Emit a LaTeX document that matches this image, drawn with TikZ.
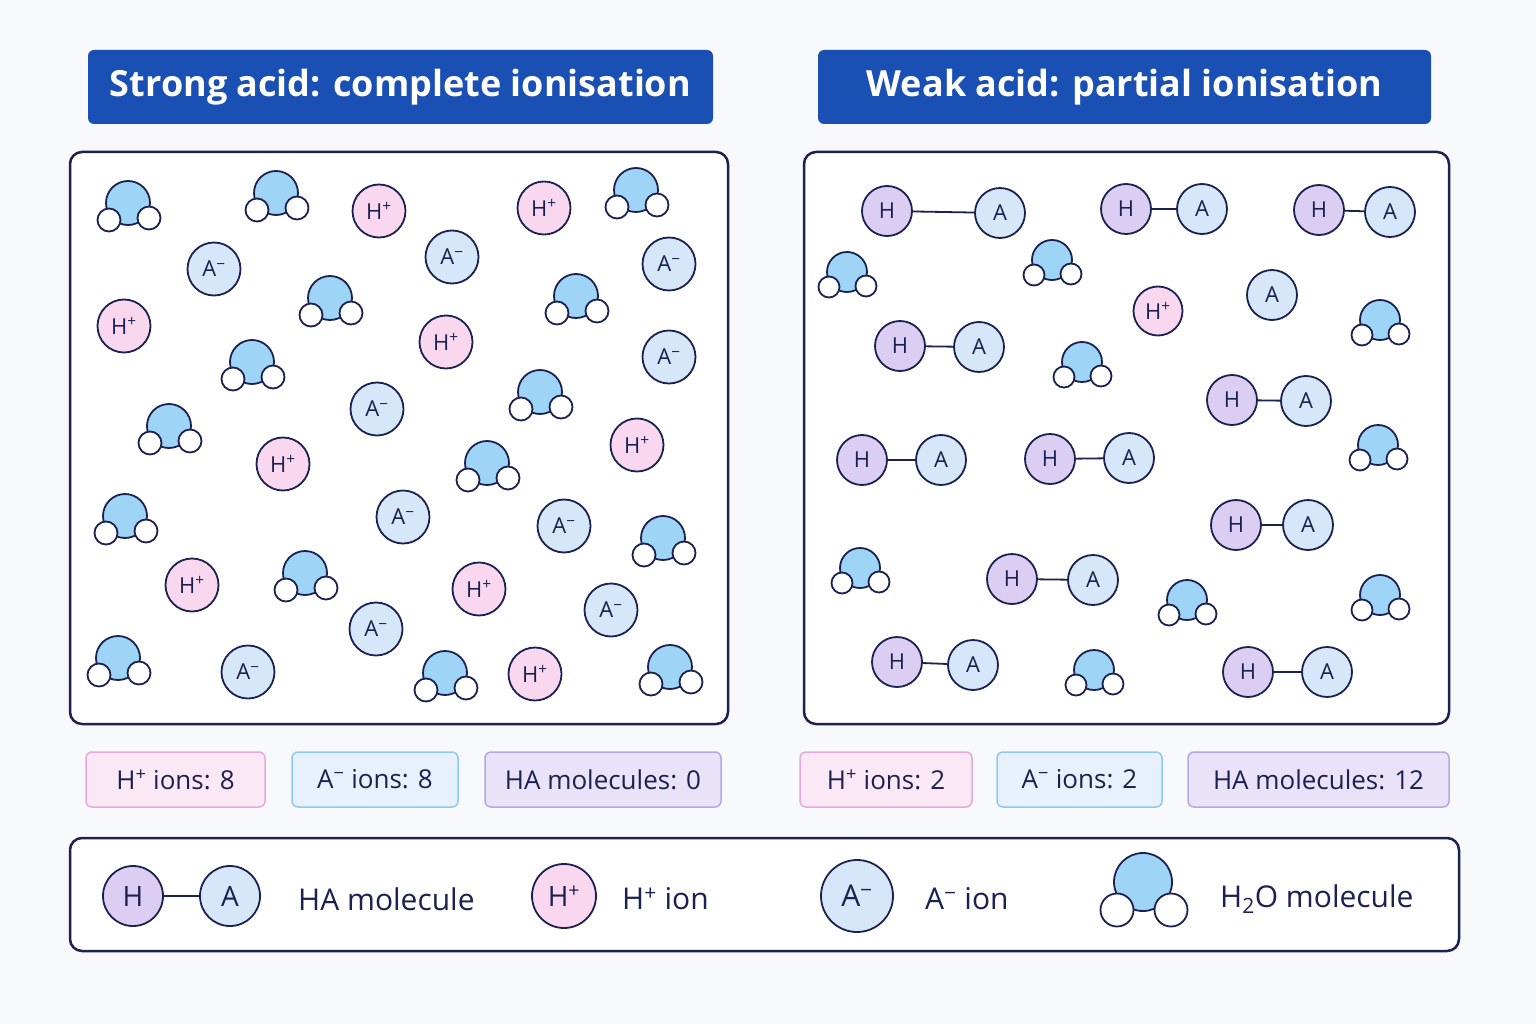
\documentclass[tikz,border=0pt]{standalone}
\usepackage{fontspec}
\setmainfont{Open Sans}
\definecolor{navy}{HTML}{1B2150}
\definecolor{ban}{HTML}{1A4FB4}
\definecolor{pinkf}{HTML}{F9D8EF}
\definecolor{bluef}{HTML}{D5E7F8}
\definecolor{oxf}{HTML}{9ED4F6}
\definecolor{purf}{HTML}{DCCEF3}
\definecolor{pinkb}{HTML}{EAA8D8}
\definecolor{blueb}{HTML}{8FC9EF}
\definecolor{purb}{HTML}{B4A8E3}
\begin{document}
\begin{tikzpicture}[x=1pt,y=-1pt,
 every node/.style={font=\fontsize{22}{26}\selectfont,text=navy,inner sep=0pt},
 ion/.style={circle,draw=navy,line width=1.8pt,minimum size=#1},
 hp/.style={ion=#1,fill=pinkf}, hp/.default=53,
 am/.style={ion=#1,fill=bluef}, am/.default=53,
 hh/.style={ion=#1,fill=purf}, hh/.default=50,
 ox/.style={circle,draw=navy,line width=1.8pt,fill=oxf,minimum size=#1}, ox/.default=44,
 hy/.style={circle,draw=navy,line width=1.8pt,fill=white,minimum size=#1}, hy/.default=23,
 panel/.style={draw=navy,line width=2.5pt,rounded corners=12pt,fill=white},
 banner/.style={fill=ban,rounded corners=6pt},
 btxt/.style={font=\fontsize{36}{40}\selectfont\bfseries,text=white},
 cnt/.style={rounded corners=6pt,line width=1.5pt},
 ctxt/.style={font=\fontsize{26}{30}\selectfont},
 ltxt/.style={font=\fontsize{30}{34}\selectfont,anchor=west},
 bond/.style={draw=navy,line width=1.8pt}]
\useasboundingbox[fill=white!97!blue!60!white] (0,0) rectangle (1536,1024);
\fill[fill={rgb,255:red,248;green,249;blue,252}] (0,0) rectangle (1536,1024);
% banners
\node[banner,minimum width=625,minimum height=74] (b1) at (400.5,87) {};
\node[btxt] (b1t) at (b1) {Strong acid: complete ionisation};
\node[banner,minimum width=613,minimum height=74] (b2) at (1124.5,87) {};
\node[btxt] (b2t) at (b2) {Weak acid: partial ionisation};
% panels
\draw[panel] (70,152) rectangle (728,724);
\draw[panel] (804,152) rectangle (1449,724);
% left waters
\foreach[count=\i] \x/\y in {128/203,276/193,636/190,330/298,576/296,252/362,540/392,169/426,487/463,125/516,663/538,305/573,118/658,445/673,670/667}{
 \node[ox] (wl\i) at (\x,\y) {};
 \node[hy] (wl\i a) at (\x-19,\y+17) {};
 \node[hy] (wl\i b) at (\x+21,\y+15) {};
}
\foreach[count=\i] \x/\y in {379/211,544/208,124/326,446/342,637/445,283/464,192/585,479/589,535/674}{
 \node[hp] (hl\i) at (\x,\y) {H\textsuperscript{+}};
}
\foreach[count=\i] \x/\y in {214/269,452/257,669/264,669/357,377/409,403/517,564/526,376/629,611/610,248/672}{
 \node[am] (al\i) at (\x,\y) {A\textsuperscript{−}};
}
% right panel
\foreach[count=\i] \x/\y/\u/\v in {887/211/1000/213,1126/209/1202/209,1319/210/1390/212,900/346/979/347,1232/400/1306/401,862/460/941/460,1050/459/1129/458,1236/525/1308/525,1012/579/1093/580,897/662/973/665,1248/672/1327/672}{
 \node[hh] (hr\i) at (\x,\y) {H};
 \node[am=50] (ar\i) at (\u,\v) {A};
 \draw[bond] (hr\i) -- (ar\i);
}
\node[am=50] (ar0) at (1272,295) {A};
\node[hp=49] (hpr) at (1158,311) {H\textsuperscript{+}};
\foreach[count=\i] \x/\y in {847/272,1052/260,1380/320,1082/362,1378/445,860/568,1187/600,1380/595,1094/670}{
 \node[ox=40] (wr\i) at (\x,\y) {};
 \node[hy=21] (wr\i a) at (\x-18,\y+15) {};
 \node[hy=21] (wr\i b) at (\x+19,\y+14) {};
}
% counts
\node[cnt,draw=pinkb,fill=pinkf!60,minimum width=179,minimum height=55] (c1) at (175.5,779.5) {};
\node[ctxt] at (c1) {H\textsuperscript{+} ions: 8};
\node[cnt,draw=blueb,fill=bluef!60,minimum width=166,minimum height=55] (c2) at (375,779.5) {};
\node[ctxt] at (c2) {A\textsuperscript{−} ions: 8};
\node[cnt,draw=purb,fill=purf!60,minimum width=236,minimum height=55] (c3) at (603,779.5) {};
\node[ctxt] at (c3) {HA molecules: 0};
\node[cnt,draw=pinkb,fill=pinkf!60,minimum width=172,minimum height=55] (c4) at (886,779.5) {};
\node[ctxt] at (c4) {H\textsuperscript{+} ions: 2};
\node[cnt,draw=blueb,fill=bluef!60,minimum width=165,minimum height=55] (c5) at (1079.5,779.5) {};
\node[ctxt] at (c5) {A\textsuperscript{−} ions: 2};
\node[cnt,draw=purb,fill=purf!60,minimum width=261,minimum height=55] (c6) at (1318.5,779.5) {};
\node[ctxt] at (c6) {HA molecules: 12};
% legend
\draw[panel] (70,838) rectangle (1459,951);
\node[hh=60,font=\fontsize{28}{32}\selectfont] (lh) at (133,896) {H};
\node[am=60,font=\fontsize{28}{32}\selectfont] (la) at (230,896) {A};
\draw[bond] (lh) -- (la);
\node[ltxt] (lt1) at (298,899) {HA molecule};
\node[hp=64,font=\fontsize{28}{32}\selectfont] (lhp) at (564,896) {H\textsuperscript{+}};
\node[ltxt] (lt2) at (622,899) {H\textsuperscript{+} ion};
\node[am=72,font=\fontsize{30}{34}\selectfont] (lam) at (857,896) {A\textsuperscript{−}};
\node[ltxt] (lt3) at (925,899) {A\textsuperscript{−} ion};
\node[ox=58] (lo) at (1143,882) {};
\node[hy=33] (loa) at (1117,910) {};
\node[hy=33] (lob) at (1171,910) {};
\node[ltxt] (lt4) at (1220,899) {H\textsubscript{2}O molecule};
\end{tikzpicture}
\end{document}
